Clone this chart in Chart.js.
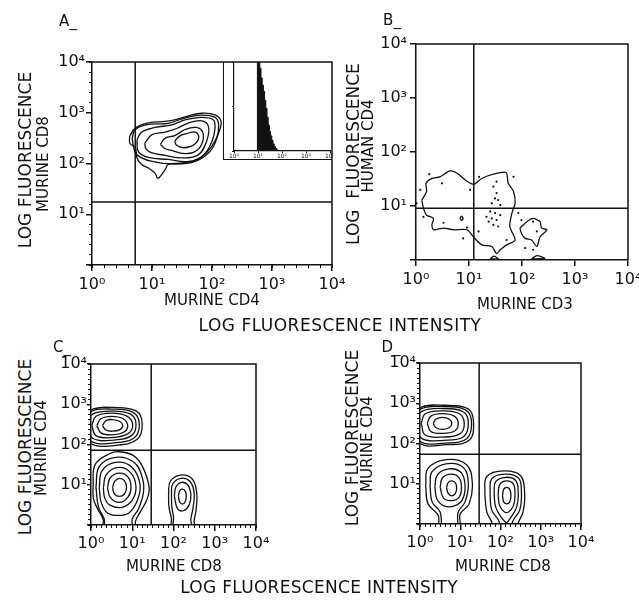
<!DOCTYPE html>
<html>
<head>
<meta charset="utf-8">
<script src="https://cdn.jsdelivr.net/npm/chart.js@4.4.0/dist/chart.umd.min.js"></script>
<style>
  body { margin: 0; background: #fff; }
  #fig { position: relative; width: 639px; height: 600px; overflow: hidden;
         font-family: 'DejaVu Sans', sans-serif; color: #111; }
  canvas { position: absolute; }
  .t { position: absolute; white-space: pre; line-height: 1; transform: translate(-50%, -50%); }
  .r { transform: translate(-50%, -50%) rotate(-90deg); }
  #insetBox { position: absolute; left: 223px; top: 62px; width: 109px; height: 98px;
              box-sizing: border-box; border-left: 1.5px solid #111; border-bottom: 1.5px solid #111; }
</style>
</head>
<body>
<div id="fig">
  <div id="insetBox"></div>
  <canvas id="inset" width="108" height="98" style="left:224px;top:62px"></canvas>
  <canvas id="pA" width="310" height="260" style="left:40px;top:40px"></canvas>
  <canvas id="pB" width="269" height="275" style="left:370px;top:25px"></canvas>
  <canvas id="pC" width="235" height="215" style="left:40px;top:345px"></canvas>
  <canvas id="pD" width="235" height="215" style="left:370px;top:345px"></canvas>

  <div class="t" style="left:68px;top:21px;font-size:15px">A_</div>
  <div class="t" style="left:392px;top:20px;font-size:15px">B_</div>
  <div class="t" style="left:62px;top:347px;font-size:15px">C_</div>
  <div class="t" style="left:391px;top:347px;font-size:15px">D_</div>

  <div class="t" style="left:212px;top:300px;font-size:15px">MURINE CD4</div>
  <div class="t" style="left:525px;top:304px;font-size:15px">MURINE CD3</div>
  <div class="t" style="left:174px;top:566px;font-size:15px">MURINE CD8</div>
  <div class="t" style="left:503px;top:566px;font-size:15px">MURINE CD8</div>
  <div class="t" style="left:340px;top:325px;font-size:17px;letter-spacing:0.5px">LOG FLUORESCENCE INTENSITY</div>
  <div class="t" style="left:319px;top:587px;font-size:17px;letter-spacing:0.3px">LOG FLUORESCENCE INTENSITY</div>

  <div class="t r" style="left:25px;top:160px;font-size:17px">LOG FLUORESCENCE</div>
  <div class="t r" style="left:43px;top:164px;font-size:15px">MURINE CD8</div>
  <div class="t r" style="left:353px;top:154px;font-size:17px">LOG  FLUORESCENCE</div>
  <div class="t r" style="left:368px;top:146px;font-size:15px">HUMAN CD4</div>
  <div class="t r" style="left:25px;top:447px;font-size:17px">LOG FLUORESCENCE</div>
  <div class="t r" style="left:41px;top:448px;font-size:15px">MURINE CD4</div>
  <div class="t r" style="left:352px;top:438px;font-size:17px">LOG FLUORESCENCE</div>
  <div class="t r" style="left:367px;top:444px;font-size:15px">MURINE CD4</div>
</div>

<script>
const INK = '#111';
const FONT = "'DejaVu Sans', sans-serif";

// axes are in decades of log fluorescence (0 = 10^0 ... 4 = 10^4)
const majorTicks = [0, 1, 2, 3, 4];
const xTickLabels = ['10⁰', '10¹', '10²', '10³', '10⁴'];
const yTickLabels = ['', '10¹', '10²', '10³', '10⁴'];

// quadrant gates for panels A, B, C, D
const gateX = [0.72, 1.09, 1.46, 1.47];
const gateY = [1.24, 0.96, 1.86, 1.73];

// --- panel A: murine CD4 (x) vs murine CD8 (y), one population ---
const ringsA = [
  [[1.38,2.44],[1.46,2.54],[1.58,2.59],[1.72,2.62],[1.78,2.52],[1.70,2.37],[1.53,2.31],[1.41,2.36]],
  [[1.14,2.38],[1.22,2.50],[1.38,2.55],[1.55,2.67],[1.74,2.71],[1.85,2.60],[1.82,2.36],[1.69,2.22],[1.50,2.20],[1.35,2.25],[1.22,2.29]],
  [[0.88,2.40],[1.00,2.57],[1.22,2.62],[1.41,2.69],[1.61,2.80],[1.83,2.84],[1.94,2.73],[1.91,2.44],[1.77,2.17],[1.50,2.11],[1.22,2.16],[1.00,2.21],[0.90,2.29]],
  [[0.75,2.47],[0.83,2.62],[1.05,2.71],[1.33,2.76],[1.55,2.86],[1.83,2.91],[2.02,2.86],[2.05,2.70],[2.00,2.44],[1.86,2.17],[1.61,2.04],[1.27,2.08],[0.94,2.12],[0.77,2.24]],
  [[0.67,2.50],[0.72,2.67],[0.94,2.77],[1.27,2.79],[1.50,2.88],[1.77,2.95],[2.05,2.91],[2.11,2.77],[2.08,2.50],[1.97,2.24],[1.72,2.04],[1.38,1.99],[1.00,2.04],[0.75,2.17],[0.69,2.34]],
  [[0.63,2.54],[0.72,2.70],[0.94,2.80],[1.22,2.83],[1.41,2.87],[1.61,2.94],[1.83,2.99],[2.05,2.96],[2.15,2.84],[2.13,2.67],[2.05,2.44],[1.91,2.21],[1.75,2.07],[1.50,2.01],[1.27,1.98],[1.22,1.88],[1.10,1.71],[1.05,1.81],[0.94,1.91],[0.83,1.98],[0.75,2.11],[0.72,2.31],[0.63,2.40]]
];

// inset histogram of panel A (x in decades, y in % of peak)
const histX = [0.90, 0.95, 1.00, 1.05, 1.10, 1.15, 1.20, 1.25, 1.30, 1.35, 1.40, 1.45, 1.50, 1.55, 1.60, 1.65, 1.70, 1.75, 1.80, 1.85];
const histY = [0, 0, 100, 100, 93, 82, 74, 67, 57, 48, 38, 29, 22, 17, 12, 8, 5, 3, 1.5, 0];

// --- panel B: murine CD3 (x) vs human CD4 (y) ---
const ringsB = [
  [[0.11,1.11],[0.20,1.27],[0.19,1.42],[0.30,1.51],[0.45,1.54],[0.64,1.65],[0.77,1.61],[0.93,1.48],[1.09,1.40],[1.24,1.51],[1.46,1.59],[1.70,1.62],[1.74,1.42],[1.84,1.27],[1.87,1.05],[1.81,0.87],[1.77,0.62],[1.87,0.37],[1.71,0.28],[1.59,0.19],[1.52,0.12],[1.43,0.25],[1.24,0.28],[1.09,0.42],[0.96,0.56],[0.71,0.56],[0.52,0.59],[0.33,0.56],[0.30,0.65],[0.33,0.77],[0.20,0.83],[0.14,0.96]],
  [[1.96,0.59],[2.09,0.71],[2.21,0.77],[2.34,0.71],[2.37,0.59],[2.47,0.56],[2.34,0.43],[2.28,0.25],[2.18,0.37],[2.06,0.40],[1.99,0.49]],
  [[0.83,0.77],[0.86,0.81],[0.89,0.77],[0.86,0.73]],
  [[1.40,0.02],[1.47,0.07],[1.55,0.02]],
  [[2.18,0.02],[2.28,0.08],[2.43,0.03]]
];
const dotsB = [
  [1.52,1.24],[1.49,1.14],[1.55,1.11],[1.43,1.05],[1.59,1.02],[1.40,0.90],[1.49,0.87],[1.33,0.80],[1.43,0.77],
  [1.52,0.74],[1.37,0.71],[1.46,0.65],[1.55,0.62],[1.59,0.83],[1.52,1.45],[1.46,1.36],[0.25,1.59],[0.01,1.05],
  [0.08,1.30],[0.14,0.80],[0.49,1.42],[1.02,1.30],[1.19,1.54],[0.52,0.69],[0.96,0.60],[1.18,0.53],[0.89,0.40],
  [1.71,0.37],[1.93,0.87],[1.99,0.74],[2.06,0.22],[2.21,0.71],[2.28,0.53],[2.21,0.19],[1.84,1.54]
];

// --- panel C: murine CD8 (x) vs murine CD4 (y) ---
const ringsC = [
  [[0.28,2.47],[0.36,2.59],[0.52,2.62],[0.70,2.57],[0.77,2.47],[0.70,2.37],[0.52,2.33],[0.36,2.36]],
  [[0.14,2.47],[0.24,2.64],[0.50,2.70],[0.78,2.64],[0.89,2.47],[0.80,2.31],[0.50,2.24],[0.24,2.29]],
  [[0.02,2.47],[0.12,2.70],[0.48,2.78],[0.86,2.71],[1.01,2.50],[0.90,2.27],[0.50,2.17],[0.12,2.22]],
  [[-0.15,2.50],[0.05,2.76],[0.50,2.83],[0.95,2.76],[1.09,2.52],[0.98,2.22],[0.55,2.11],[0.05,2.15]],
  [[-0.25,2.50],[0.00,2.82],[0.50,2.88],[1.02,2.80],[1.17,2.52],[1.05,2.17],[0.55,2.04],[0.00,2.08]],
  [[-0.30,2.50],[0.00,2.86],[0.55,2.92],[1.10,2.83],[1.24,2.52],[1.12,2.13],[0.60,1.98],[0.00,2.02]],
  [[0.52,0.93],[0.58,1.09],[0.69,1.16],[0.81,1.10],[0.86,0.93],[0.81,0.77],[0.69,0.71],[0.57,0.77]],
  [[0.40,0.93],[0.47,1.18],[0.69,1.29],[0.90,1.19],[0.97,0.93],[0.90,0.70],[0.69,0.56],[0.47,0.68]],
  [[0.30,0.92],[0.37,1.25],[0.66,1.43],[0.96,1.30],[1.09,0.95],[1.00,0.62],[0.75,0.44],[0.45,0.50],[0.33,0.68]],
  [[0.20,0.92],[0.27,1.35],[0.62,1.56],[1.00,1.43],[1.19,1.00],[1.12,0.60],[0.92,0.30],[0.65,0.24],[0.40,0.30],[0.25,0.55]],
  [[0.12,0.95],[0.20,1.45],[0.60,1.68],[1.05,1.55],[1.25,1.15],[1.27,0.80],[1.15,0.40],[1.00,0.15],[0.98,-0.10],[0.36,-0.10],[0.32,0.15],[0.18,0.45]],
  [[0.05,0.95],[0.10,1.50],[0.45,1.77],[0.69,1.82],[1.02,1.73],[1.25,1.45],[1.41,0.93],[1.35,0.62],[1.18,0.30],[1.08,0.10],[1.06,-0.10],[0.28,-0.10],[0.30,0.12],[0.16,0.40],[0.06,0.65]],
  [[2.12,0.72],[2.15,0.85],[2.22,0.89],[2.29,0.83],[2.31,0.70],[2.28,0.57],[2.22,0.52],[2.15,0.57]],
  [[2.02,0.72],[2.06,0.95],[2.20,1.06],[2.35,0.99],[2.42,0.75],[2.38,0.50],[2.25,0.36],[2.10,0.40]],
  [[1.95,0.75],[1.98,1.02],[2.18,1.16],[2.40,1.08],[2.50,0.80],[2.47,0.40],[2.42,0.15],[2.42,-0.10],[2.02,-0.10],[2.00,0.20],[1.96,0.45]],
  [[1.88,0.75],[1.92,1.08],[2.17,1.24],[2.45,1.15],[2.56,0.82],[2.55,0.40],[2.50,0.10],[2.50,-0.10],[1.96,-0.10],[1.95,0.15],[1.89,0.45]]
];

// --- panel D: murine CD8 (x) vs murine CD4 (y) ---
const ringsD = [
  [[0.33,2.50],[0.40,2.61],[0.56,2.65],[0.72,2.61],[0.79,2.50],[0.72,2.39],[0.56,2.35],[0.40,2.39]],
  [[0.18,2.50],[0.27,2.68],[0.55,2.74],[0.85,2.68],[0.95,2.50],[0.86,2.31],[0.55,2.25],[0.27,2.30]],
  [[0.03,2.50],[0.13,2.74],[0.55,2.81],[0.98,2.74],[1.10,2.50],[0.99,2.24],[0.55,2.16],[0.13,2.21]],
  [[-0.15,2.52],[0.05,2.80],[0.55,2.87],[1.07,2.79],[1.20,2.52],[1.08,2.17],[0.58,2.08],[0.05,2.12]],
  [[-0.25,2.52],[0.00,2.85],[0.55,2.92],[1.14,2.83],[1.28,2.52],[1.16,2.12],[0.62,2.01],[0.00,2.05]],
  [[-0.30,2.52],[0.00,2.89],[0.60,2.95],[1.20,2.86],[1.33,2.52],[1.22,2.08],[0.65,1.97],[0.00,2.00]],
  [[0.66,0.90],[0.70,1.03],[0.79,1.07],[0.88,1.02],[0.91,0.90],[0.88,0.76],[0.79,0.70],[0.70,0.76]],
  [[0.50,0.92],[0.56,1.15],[0.78,1.24],[0.97,1.15],[1.03,0.90],[0.97,0.66],[0.78,0.58],[0.58,0.65]],
  [[0.37,0.92],[0.43,1.22],[0.72,1.37],[1.02,1.28],[1.12,0.95],[1.05,0.60],[0.85,0.45],[0.60,0.45],[0.42,0.62]],
  [[0.25,0.95],[0.30,1.30],[0.68,1.50],[1.08,1.40],[1.20,1.00],[1.12,0.55],[0.95,0.30],[0.90,-0.10],[0.58,-0.10],[0.50,0.30],[0.30,0.55]],
  [[0.14,0.95],[0.20,1.38],[0.65,1.60],[1.15,1.48],[1.30,1.02],[1.22,0.50],[1.00,0.25],[0.97,-0.10],[0.50,-0.10],[0.45,0.22],[0.20,0.50]],
  [[2.05,0.70],[2.08,0.86],[2.155,0.91],[2.23,0.86],[2.26,0.70],[2.23,0.55],[2.155,0.50],[2.08,0.55]],
  [[1.94,0.72],[1.98,0.98],[2.15,1.07],[2.32,0.99],[2.36,0.72],[2.32,0.45],[2.20,0.30],[2.10,0.30],[1.98,0.45]],
  [[1.84,0.75],[1.88,1.05],[2.13,1.16],[2.38,1.08],[2.44,0.75],[2.40,0.42],[2.25,0.15],[2.08,-0.10],[2.24,-0.10],[2.03,0.15],[1.88,0.42]],
  [[1.74,0.75],[1.78,1.12],[2.10,1.24],[2.45,1.14],[2.52,0.75],[2.48,0.35],[2.32,0.10],[2.22,-0.10],[2.02,-0.10],[1.95,0.10],[1.78,0.35]],
  [[1.61,0.75],[1.66,1.18],[2.08,1.32],[2.50,1.20],[2.60,0.75],[2.56,0.30],[2.45,0.05],[2.42,-0.10],[1.80,-0.10],[1.78,0.05],[1.66,0.30]]
];

// draws the top and right edges of the plot box
const framePlugin = {
  id: 'frame',
  afterDatasetsDraw(chart) {
    const { ctx, chartArea: a } = chart;
    ctx.save();
    ctx.strokeStyle = INK;
    ctx.lineWidth = 1.5;
    ctx.beginPath();
    ctx.moveTo(a.left, a.top);
    ctx.lineTo(a.right, a.top);
    ctx.lineTo(a.right, a.bottom);
    ctx.stroke();
    ctx.restore();
  }
};

function ringDatasets(rings, tension) {
  return rings.map(r => ({
    data: r.concat([r[0]]).map(p => ({ x: p[0], y: p[1] })),
    showLine: true, borderColor: INK, borderWidth: 1.3, pointRadius: 0, tension: tension, fill: false
  }));
}

function gateDatasets(gx, gy) {
  const style = { showLine: true, borderColor: INK, borderWidth: 1.5, pointRadius: 0, tension: 0 };
  return [
    Object.assign({ data: [{ x: gx, y: 0 }, { x: gx, y: 4 }] }, style),
    Object.assign({ data: [{ x: 0, y: gy }, { x: 4, y: gy }] }, style)
  ];
}

function panelScales(o) {
  const minorX = {
    type: 'linear', min: 0, max: 4, position: 'bottom', weight: 0, display: !!o.minor,
    ticks: { display: false, stepSize: o.minor || 1 },
    afterFit: s => { s.height = 0; s.paddingLeft = 0; s.paddingRight = 0; },
    grid: { drawOnChartArea: false, tickLength: 3, color: INK, lineWidth: 1 },
    border: { display: false }
  };
  const minorY = {
    type: 'linear', min: 0, max: 4, position: 'left', weight: 0, display: !!o.minor,
    ticks: { display: false, stepSize: o.minor || 1 },
    afterFit: s => { s.width = 0; s.paddingTop = 0; s.paddingBottom = 0; },
    grid: { drawOnChartArea: false, tickLength: 3, color: INK, lineWidth: 1 },
    border: { display: false }
  };
  return {
    x: {
      type: 'linear', min: 0, max: 4, position: 'bottom', weight: 1,
      afterBuildTicks: s => { s.ticks = majorTicks.map(v => ({ value: v })); },
      afterFit: s => { s.height = o.xh; s.paddingLeft = 0; s.paddingRight = 0; },
      ticks: { callback: v => xTickLabels[v], color: INK, font: { family: FONT, size: 16 },
               padding: o.xpad, maxRotation: 0, autoSkip: false },
      grid: { drawOnChartArea: false, tickLength: 6, color: INK, lineWidth: 1.5 },
      border: { color: INK, width: 1.5 }
    },
    y: {
      type: 'linear', min: 0, max: 4, position: 'left', weight: 1,
      afterBuildTicks: s => { s.ticks = majorTicks.map(v => ({ value: v })); },
      afterFit: s => { s.width = o.yw; s.paddingTop = 0; s.paddingBottom = 0; },
      ticks: { callback: v => yTickLabels[v], color: INK, font: { family: FONT, size: 16 },
               padding: o.ypad, autoSkip: false },
      grid: { drawOnChartArea: false, tickLength: o.ytl, color: INK, lineWidth: 1.5 },
      border: { color: INK, width: 1.5 }
    },
    xm: minorX,
    ym: minorY
  };
}

function makePanel(id, datasets, o) {
  return new Chart(document.getElementById(id), {
    type: 'scatter',
    data: { datasets: datasets },
    options: {
      responsive: false, animation: false, events: [],
      layout: { padding: o.pad },
      plugins: { legend: { display: false }, tooltip: { enabled: false } },
      scales: panelScales(o)
    },
    plugins: [framePlugin]
  });
}

makePanel('pA', gateDatasets(gateX[0], gateY[0]).concat(ringDatasets(ringsA, 0.4)),
  { pad: { left: 0, top: 22, right: 18, bottom: 0 }, yw: 52, xh: 35, xpad: 4, ypad: 1, ytl: 6, minor: 0.2 });

makePanel('pB', gateDatasets(gateX[1], gateY[1]).concat(ringDatasets(ringsB, 0.25)).concat([{
    data: dotsB.map(p => ({ x: p[0], y: p[1] })),
    showLine: false, pointRadius: 1.1, pointBackgroundColor: INK, pointBorderWidth: 0
  }]),
  { pad: { left: 0, top: 19, right: 11, bottom: 0 }, yw: 46, xh: 40, xpad: 4, ypad: 3, ytl: 6, minor: 0 });

makePanel('pC', gateDatasets(gateX[2], gateY[2]).concat(ringDatasets(ringsC, 0.4)),
  { pad: { left: 0, top: 19, right: 19, bottom: 0 }, yw: 51, xh: 35, xpad: 3, ypad: 0, ytl: 4, minor: 0.125 });

makePanel('pD', gateDatasets(gateX[3], gateY[3]).concat(ringDatasets(ringsD, 0.4)),
  { pad: { left: 0, top: 18, right: 24, bottom: 0 }, yw: 50, xh: 36, xpad: 3, ypad: 0, ytl: 4, minor: 0.125 });

// inset histogram in panel A
new Chart(document.getElementById('inset'), {
  type: 'scatter',
  data: {
    datasets: [{
      data: histX.map((x, i) => ({ x: x, y: histY[i] })),
      showLine: true, stepped: 'middle', fill: 'origin',
      borderColor: INK, backgroundColor: INK, borderWidth: 1, pointRadius: 0
    }]
  },
  options: {
    responsive: false, animation: false, events: [],
    layout: { padding: { left: 0, top: 0, right: 2, bottom: 0 } },
    plugins: { legend: { display: false }, tooltip: { enabled: false } },
    scales: {
      x: {
        type: 'linear', min: 0, max: 4,
        afterBuildTicks: s => { s.ticks = majorTicks.map(v => ({ value: v })); },
        afterFit: s => { s.height = 9; s.paddingLeft = 0; s.paddingRight = 0; },
        ticks: { callback: v => xTickLabels[v], color: INK, font: { family: FONT, size: 6 },
                 padding: 0, maxRotation: 0, autoSkip: false },
        grid: { drawOnChartArea: false, tickLength: 2, color: INK, lineWidth: 1 },
        border: { color: INK, width: 1.2 }
      },
      y: {
        type: 'linear', min: 0, max: 100,
        afterBuildTicks: s => { s.ticks = [0, 50, 100].map(v => ({ value: v })); },
        afterFit: s => { s.width = 10; s.paddingTop = 0; s.paddingBottom = 0; },
        ticks: { display: false },
        grid: { drawOnChartArea: false, tickLength: 2, color: INK, lineWidth: 1 },
        border: { color: INK, width: 1.2 }
      }
    }
  }
});
</script>
</body>
</html>
